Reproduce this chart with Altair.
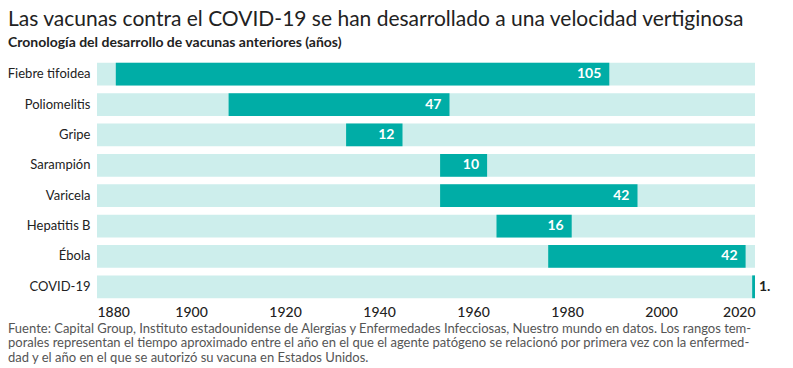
import altair as alt
import pandas as pd

categories = ["Fiebre tifoidea", "Poliomelitis", "Gripe", "Sarampión",
              "Varicela", "Hepatitis B", "Ébola", "COVID-19"]
start_year = [1884, 1908, 1933, 1953, 1953, 1965, 1976, 2019.4]
end_year = [1989, 1955, 1945, 1963, 1995, 1981, 2018, 2020]
value_labels = ["105", "47", "12", "10", "42", "16", "42", "1."]
label_inside = [True, True, True, True, True, True, True, False]
range_start = 1880
range_end = 2020
tick_years = [1880, 1900, 1920, 1940, 1960, 1980, 2000, 2020]

title_text = "Las vacunas contra el COVID-19 se han desarrollado a una velocidad vertiginosa"
subtitle_text = "Cronología del desarrollo de vacunas anteriores (años)"
footnote_lines = [
    "Fuente: Capital Group, Instituto estadounidense de Alergias y Enfermedades Infecciosas, Nuestro mundo en datos. Los rangos tem-",
    "porales representan el tiempo aproximado entre el año en el que el agente patógeno se relacionó por primera vez con la enfermed-",
    "dad y el año en el que se autorizó su vacuna en Estados Unidos.",
]

df = pd.DataFrame({
    "cat": categories,
    "start": start_year,
    "end": end_year,
    "label": value_labels,
    "inside": label_inside,
    "bg_start": [range_start] * len(categories),
    "bg_end": [range_end] * len(categories),
})

W, H = 658, 243
FONT = "Lato"
TEAL = "#00ADA6"
LIGHT = "#CDEEEC"

xscale = alt.Scale(domain=[range_start, range_end], nice=False, zero=False)
yscale = alt.Scale(paddingInner=0.25, paddingOuter=0.125)

x_axis = alt.Axis(values=tick_years, format="d", title=None, domain=False, ticks=False,
                  grid=False, labelPadding=3, labelFontSize=14, labelColor="#222",
                  labelFont=FONT, labelFontWeight=500)
y_axis = alt.Axis(title=None, domain=False, ticks=False, labelPadding=7,
                  labelFontSize=13, labelColor="#222", labelFont=FONT)

base = alt.Chart(df)

bg = base.mark_bar(color=LIGHT).encode(
    y=alt.Y("cat:N", sort=categories, scale=yscale, axis=y_axis),
    x=alt.X("bg_start:Q", scale=xscale, axis=x_axis),
    x2="bg_end:Q",
)

bars = base.mark_bar(color=TEAL).encode(
    y=alt.Y("cat:N", sort=categories),
    x="start:Q",
    x2="end:Q",
)

txt_in = base.transform_filter("datum.inside").mark_text(
    align="right", baseline="middle", dx=-8, color="white",
    font=FONT, fontWeight="bold", fontSize=14,
).encode(y=alt.Y("cat:N", sort=categories), x="end:Q", text="label:N")

txt_out = base.transform_filter("!datum.inside").mark_text(
    align="left", baseline="middle", dx=4, color="#222",
    font=FONT, fontWeight="bold", fontSize=14,
).encode(y=alt.Y("cat:N", sort=categories), x="end:Q", text="label:N")

title = alt.Chart(pd.DataFrame({"t": [title_text]})).mark_text(
    align="left", baseline="alphabetic", font=FONT, fontSize=21, color="#222",
).encode(x=alt.value(-89), y=alt.value(-33), text="t:N")

subtitle = alt.Chart(pd.DataFrame({"t": [subtitle_text]})).mark_text(
    align="left", baseline="alphabetic", font=FONT, fontSize=14, fontWeight="bold", color="#222",
).encode(x=alt.value(-89), y=alt.value(-12), text="t:N")

foot = alt.Chart(pd.DataFrame({"t": ["\n".join(footnote_lines)]})).mark_text(
    align="left", baseline="alphabetic", font=FONT, fontSize=13, color="#555",
    lineBreak="\n", lineHeight=14.5,
).encode(x=alt.value(-89), y=alt.value(273.5), text="t:N")

chart = alt.layer(bg, bars, txt_in, txt_out, title, subtitle, foot).properties(
    width=W, height=H,
    autosize=alt.AutoSizeParams(type="none"),
    padding={"left": 89, "top": 51, "right": 30, "bottom": 64},
).configure_view(stroke=None)

chart.save("out.html", embed_options={"renderer": "svg", "actions": False})
